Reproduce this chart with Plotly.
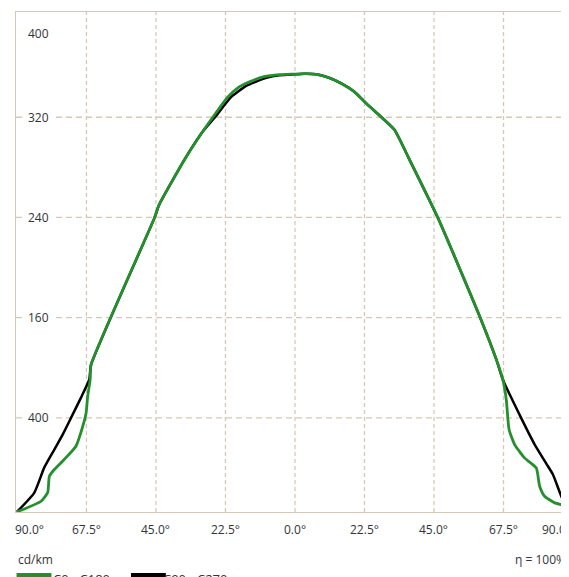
import plotly.graph_objects as go

# ---- data (angle in degrees, left side negative; intensity in cd/km) ----
c0_angles = [-90, -82.2, -80.05, -79.5, -77.9, -74.7, -70.9, -68.7, -67.6, -67.1, -66.3, -66.0,
             -45.5, -44.0, -35.8, -31.3, -26.6, -22.0, -18.5, -14.5, -10.0, -5.0, -1.2,
             3.0, 6.9, 11.0, 15.0, 19.2, 23.1, 28.0, 32.2, 37.1, 46.3, 59.8, 65.2, 67.3, 68.4, 69.3,
             71.1, 74.3, 78.1, 79.2, 80.8, 84.1, 87.3, 88.9, 90]
c0_values = [5, 13.5, 20.4, 33.4, 38.8, 46.8, 57.4, 73.3, 84.2, 97.2, 110.5, 122.5,
             239.5, 250, 286, 303.5, 320, 335.5, 343.5, 348.5, 352.4, 354.0, 354.3,
             354.8, 354.3, 351.5, 347, 340.4, 331, 320, 310, 286, 239.5, 161, 126.5, 110.5, 94.6, 70.7,
             58.7, 48.1, 40.1, 25.5, 17.5, 12.2, 10, 7, 5]

c90_angles = [-90, -84.4, -81.2, -77.9, -75.2, -72.5, -69.3, -66.6, -66.0,
              -45.5, -44.0, -35.8, -31.7, -29.4, -25.9, -20.7, -15.8, -9.3, -5.0, -1.2,
              3.0, 6.9, 11.0, 15.0, 19.2, 23.1, 28.0, 32.2, 37.1, 46.3, 59.8, 65.2, 67.3,
              73.2, 77.6, 81.9, 83.5, 86.2, 87.8, 88.8, 90]
c90_values = [5, 20.2, 40.1, 54.7, 66.7, 80, 96, 110.5, 122.5,
              239.5, 250, 286, 302, 310, 320, 336, 345, 351.4, 353.5, 354,
              354.8, 354.3, 351.5, 347, 340.4, 331, 320, 310, 286, 239.5, 161, 126.5, 110.5,
              80, 58.7, 41.4, 34.8, 17.5, 9.5, 7, 5]

x_grid = [-67.5, -45, -22.5, 0, 22.5, 45, 67.5]
x_label_pos = [-86.0, -67.5, -45, -22.5, 0, 22.5, 45, 67.5, 84.7]
x_label_text = ["90.0°", "67.5°", "45.0°", "22.5°", "0.0°", "22.5°", "45.0°", "67.5°", "90.0°"]
y_grid = [80, 160, 240, 320]
y_label_pos = [387, 320, 240, 160, 80]
y_label_text = ["400", "320", "240", "160", "400"]

series_names = ["C0 - C180", "C90 - C270"]
unit_text = "cd/km"
eff_text = "η = 100%"

GREEN = "#23902d"
BLACK = "#000000"
TAN = "#d6c8b8"
TXT = "#333333"
FONT = "Open Sans"

fig = go.Figure()
fig.add_trace(go.Scatter(x=c90_angles, y=c90_values, mode="lines",
                         line=dict(color=BLACK, width=2.5, shape="spline", smoothing=0.5),
                         name=series_names[1], showlegend=False))
fig.add_trace(go.Scatter(x=c0_angles, y=c0_values, mode="lines",
                         line=dict(color=GREEN, width=2.8, shape="spline", smoothing=0.5),
                         name=series_names[0], showlegend=False))

shapes = []
for gx in x_grid:
    shapes.append(dict(type="line", xref="x", yref="paper", x0=gx, x1=gx, y0=0, y1=1,
                       line=dict(color=TAN, width=1.3, dash="4px,3px"), layer="below"))
for gy in y_grid:
    shapes.append(dict(type="line", xref="paper", yref="y", x0=0, x1=1, y0=gy, y1=gy,
                       line=dict(color=TAN, width=1.3, dash="6px,4px"), layer="below"))

annotations = []
for v, t in zip(y_label_pos, y_label_text):
    annotations.append(dict(x=-82.9, y=v, xref="x", yref="y", text=t, showarrow=False,
                            font=dict(family=FONT, size=12, color=TXT),
                            bgcolor="white", borderpad=3, xanchor="center", yanchor="middle"))
for v, t in zip(x_label_pos, x_label_text):
    annotations.append(dict(x=v, y=-0.035, xref="x", yref="paper", text=t, showarrow=False,
                            font=dict(family=FONT, size=12, color=TXT),
                            xanchor="center", yanchor="middle"))

annotations.append(dict(x=0.0, y=-0.095, xref="paper", yref="paper", text=unit_text,
                        showarrow=False, font=dict(family=FONT, size=12, color=TXT),
                        xanchor="left", yanchor="middle"))
annotations.append(dict(x=0.899, y=-0.095, xref="paper", yref="paper", text=eff_text,
                        showarrow=False, font=dict(family=FONT, size=12, color=TXT),
                        xanchor="left", yanchor="middle"))

# legend (manual, partly cut off by the bottom edge as in the reference)
sw_y = -0.126
shapes.append(dict(type="line", xref="paper", yref="paper", x0=0.001, x1=0.064, y0=sw_y, y1=sw_y,
                   line=dict(color=GREEN, width=4)))
shapes.append(dict(type="line", xref="paper", yref="paper", x0=0.208, x1=0.271, y0=sw_y, y1=sw_y,
                   line=dict(color=BLACK, width=4)))
annotations.append(dict(x=0.064, y=-0.134, xref="paper", yref="paper", text=series_names[0],
                        showarrow=False, font=dict(family=FONT, size=13, color=TXT),
                        xanchor="left", yanchor="middle"))
annotations.append(dict(x=0.262, y=-0.134, xref="paper", yref="paper", text=series_names[1],
                        showarrow=False, font=dict(family=FONT, size=13, color=TXT),
                        xanchor="left", yanchor="middle"))

# page body has an 8px margin, so the figure is sized/offset to land where the reference is
fig.update_layout(
    width=561, height=569,
    margin=dict(l=8, r=0, t=4, b=64.5),
    plot_bgcolor="white", paper_bgcolor="white",
    shapes=shapes, annotations=annotations,
    showlegend=False,
    xaxis=dict(range=[-90.3, 88.7], showgrid=False, zeroline=False, showticklabels=False,
               ticks="", showline=True, linecolor=TAN, linewidth=1.3, mirror=True),
    yaxis=dict(range=[4.9, 404], showgrid=False, zeroline=False, showticklabels=False,
               ticks="", showline=True, linecolor=TAN, linewidth=1.3, mirror=True),
)

fig.write_html("out.html")
